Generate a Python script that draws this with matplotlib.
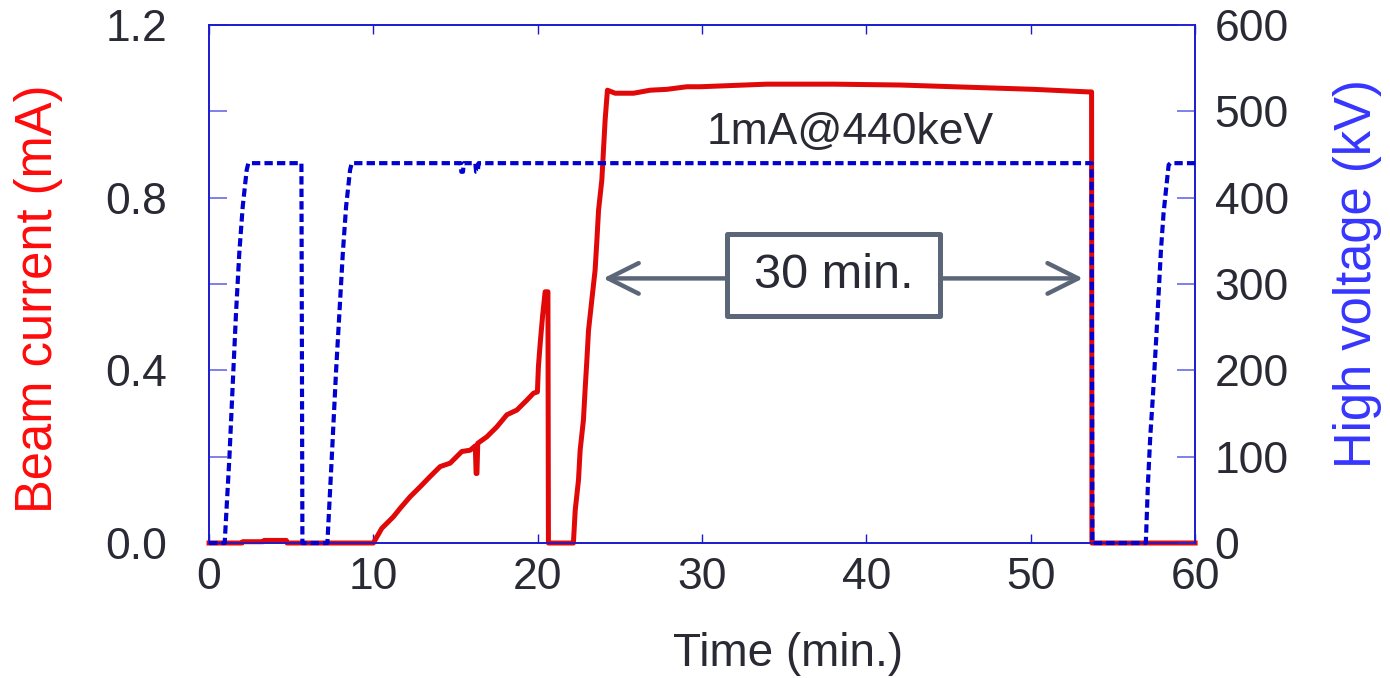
import numpy as np
import matplotlib.pyplot as plt
from matplotlib.patches import Rectangle

plt.rcParams['font.family'] = ['Liberation Sans', 'DejaVu Sans']

# beam current (mA) vs time (min.)
cur_t = [0, 2.0, 2.05, 3.3, 3.35, 4.7, 4.75, 10.0, 10.51, 11.22, 11.62, 12.23, 12.84, 13.45,
         14.06, 14.67, 15.38, 15.89, 16.2, 16.25, 16.3, 16.35, 16.90, 17.51, 18.12, 18.73,
         19.34, 19.74, 19.98, 20.04, 20.15, 20.29, 20.45, 20.62, 20.65, 22.17, 22.28, 22.48,
         22.58, 22.78, 22.88, 22.99, 23.09, 23.29, 23.49, 23.60, 23.70, 23.90, 24.0, 24.10,
         24.24, 24.71, 25.83, 26.84, 27.86, 29.07, 29.88, 33.94, 38.0, 42.06, 46.12, 50.17,
         53.52, 53.70, 53.72, 60]
cur_mA = [0, 0, 0.003, 0.003, 0.006, 0.006, 0, 0, 0.034, 0.061, 0.080, 0.107, 0.130, 0.154,
          0.177, 0.185, 0.212, 0.215, 0.225, 0.161, 0.161, 0.231, 0.246, 0.269, 0.297, 0.308,
          0.331, 0.347, 0.350, 0.408, 0.463, 0.524, 0.582, 0.582, 0, 0, 0.076, 0.146,
          0.215, 0.285, 0.354, 0.424, 0.493, 0.563, 0.632, 0.702, 0.771, 0.841, 0.910, 0.980,
          1.049, 1.042, 1.042, 1.049, 1.051, 1.057, 1.057, 1.063, 1.063, 1.061, 1.056, 1.051,
          1.045, 1.045, 0, 0]

# high voltage (kV) vs time (min.)
hv_t = [0, 0.95, 1.24, 1.48, 1.64, 1.84, 2.05, 2.29, 2.39, 5.62, 5.68, 7.2, 7.47, 7.73, 7.93,
        8.14, 8.34, 8.58, 8.68, 15.3, 15.35, 15.45, 15.5, 16.2, 16.25, 16.35, 16.4, 53.7,
        53.75, 57.0, 57.13, 57.27, 57.44, 57.64, 57.78, 57.92, 58.08, 58.25, 58.39, 58.5, 60]
hv_kV = [0, 0, 100, 200, 266, 336, 390, 432, 440, 440, 0, 0, 100, 200, 266,
         336, 390, 432, 440, 440, 430, 430, 440, 440, 430, 430, 440, 440,
         0, 0, 69, 123, 173, 239, 289, 339, 382, 413, 438, 440, 440]

txt_col = '#2a2a35'
frame_col = '#1a1ad0'
tick_col = '#6a6ae6'
red = '#e00808'
blue = '#0000d0'
gray = '#5b6779'

fig = plt.figure(figsize=(13.9, 6.78), dpi=100)
ax = fig.add_axes([0.1504, 0.1991, 0.7094, 0.7640])
ax2 = ax.twinx()

ax.plot(cur_t, cur_mA, color=red, lw=3.6, clip_on=False, zorder=3)
ax2.plot(hv_t, hv_kV, color=blue, lw=3.0, linestyle=(0, (2, 1)), clip_on=False, zorder=3)

ax.set_xlim(0, 60)
ax.set_ylim(0, 1.2)
ax2.set_ylim(0, 600)
ax.set_xticks(np.arange(0, 61, 10))
ax.set_yticks([0, 0.4, 0.8, 1.2])
ax.set_yticks([0.2, 0.6, 1.0], minor=True)
ax.set_yticklabels(['0.0', '0.4', '0.8', '1.2'])
ax2.set_yticks(np.arange(0, 601, 100))

for a in (ax, ax2):
    for s in a.spines.values():
        s.set_color(frame_col)
        s.set_linewidth(1.2)

ax.tick_params(axis='y', which='both', direction='in', length=13, width=1.2, color=tick_col,
               labelsize=32, labelcolor=txt_col, pad=30, right=False)
ax.tick_params(axis='x', direction='in', length=6.5, width=1.0, color=frame_col,
               labelsize=32, labelcolor=txt_col, pad=10, top=True)
ax2.tick_params(axis='y', direction='in', length=13, width=1.2, color=tick_col,
                labelsize=32, labelcolor=txt_col, pad=14)

ax.set_xlabel('Time (min.)', fontsize=33, color=txt_col)
ax.xaxis.set_label_coords(0.587, -0.172)
ax.set_ylabel('Beam current (mA)', fontsize=36.5, color='#ff0a0a')
ax.yaxis.set_label_coords(-0.148, 0.471)
ax2.set_ylabel('High voltage (kV)', fontsize=36.5, color='#3535ff')
ax2.yaxis.set_label_coords(1.140, 0.521)

ax2.text(39.0, 0.95 * 500, '1mA@440keV', fontsize=32, color=txt_col, ha='center', va='center')

# 30 min. span arrow with boxed label
ax.annotate('', xy=(23.98, 0.613), xytext=(53.18, 0.613),
            arrowprops=dict(arrowstyle='<->,head_length=1.1,head_width=0.55', color=gray,
                            lw=3.2, shrinkA=0, shrinkB=0, mutation_scale=20, capstyle='round'),
            zorder=4)
ax.add_patch(Rectangle((31.5, 0.525), 13.0, 0.19, facecolor='white', edgecolor=gray,
                       lw=3.6, joinstyle='round', zorder=5))
ax.text(38.0, 0.619, '30 min.', fontsize=35, color=txt_col, ha='center', va='center', zorder=6)

fig.savefig('out.png', dpi=100)
